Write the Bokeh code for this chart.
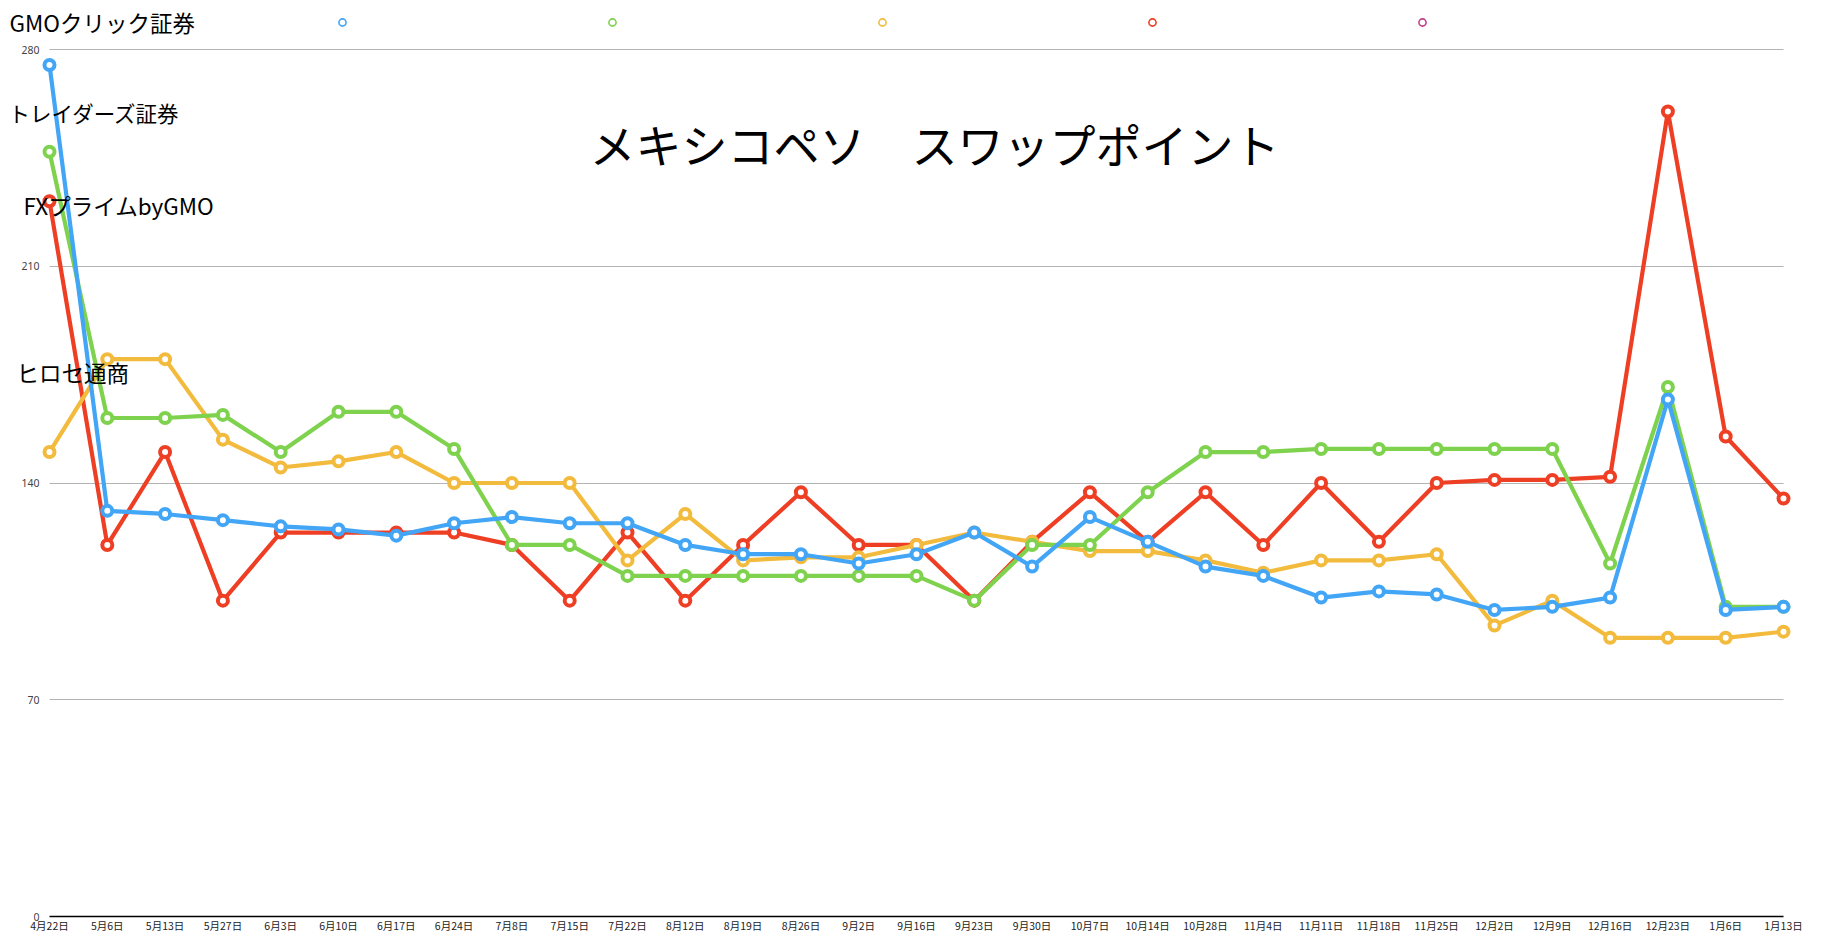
import math
from bokeh.plotting import figure
from bokeh.models import (Range1d, FixedTicker, Label, Legend, LegendItem,
                          ColumnDataSource)
from bokeh.core.properties import value
from bokeh.embed import file_html
from bokeh.resources import INLINE

# ---------------- data ----------------
dates = ["4月22日", "5月6日", "5月13日", "5月27日", "6月3日", "6月10日", "6月17日",
         "6月24日", "7月8日", "7月15日", "7月22日", "8月12日", "8月19日", "8月26日",
         "9月2日", "9月16日", "9月23日", "9月30日", "10月7日", "10月14日", "10月28日",
         "11月4日", "11月11日", "11月18日", "11月25日", "12月2日", "12月9日",
         "12月16日", "12月23日", "1月6日", "1月13日"]

gmo_click = [275, 131, 130, 128, 126, 125, 123, 127, 129, 127, 127, 120, 117, 117,
             114, 117, 124, 113, 129, 121, 113, 110, 103, 105, 104, 99, 100, 103,
             167, 99, 100]
traders = [247, 161, 161, 162, 150, 163, 163, 151, 120, 120, 110, 110, 110, 110,
           110, 110, 102, 120, 120, 137, 150, 150, 151, 151, 151, 151, 151, 114,
           171, 100, 100]
hirose = [150, 180, 180, 154, 145, 147, 150, 140, 140, 140, 115, 130, 115, 116,
          116, 120, 124, 121, 118, 118, 115, 111, 115, 115, 117, 94, 102, 90,
          90, 90, 92]
fx_prime = [231, 120, 150, 102, 124, 124, 124, 124, 120, 102, 124, 102, 120, 137,
            120, 120, 102, 121, 137, 121, 137, 120, 140, 121, 140, 141, 141, 142,
            260, 155, 135]

y_ticks = [0, 70, 140, 210, 280]
y_max_tick = 280
title_text = "メキシコペソ　スワップポイント"
series_names = ["GMOクリック証券", "トレイダーズ証券", "FXプライムbyGMO", "ヒロセ通商"]

BLUE = "#42a5f5"
GREEN = "#7ed24d"
YELLOW = "#f3bb3d"
RED = "#ee3f25"
PURPLE = "#c0408a"

JP = "Noto Sans CJK JP"

# ---------------- layout (pixels) ----------------
FRAME_W = 1822
FRAME_H = 916          # frame covers the whole upper area of the page
FIRST_X_PX = 49        # pixel position of first category
STEP_PX = 57.8         # pixels between categories
PLOT_TOP_PX = 49       # pixel position of the 280 gridline

n = len(dates)
xs = list(range(n))
x_start = -FIRST_X_PX / STEP_PX
x_end = x_start + FRAME_W / STEP_PX
y_end = y_max_tick * FRAME_H / (FRAME_H - PLOT_TOP_PX)

p = figure(frame_width=FRAME_W, frame_height=FRAME_H,
           x_range=Range1d(x_start, x_end), y_range=Range1d(0, y_end),
           output_backend="svg", toolbar_location=None,
           min_border_left=0, min_border_top=0, min_border_right=0,
           min_border_bottom=0, background_fill_color="white",
           border_fill_color="white", outline_line_color=None)

# x axis
p.xaxis.ticker = FixedTicker(ticks=xs)
p.xaxis.major_label_overrides = {i: d for i, d in enumerate(dates)}
p.xaxis.major_label_text_font = JP
p.xaxis.major_label_text_font_size = "10.5px"
p.xaxis.major_label_text_color = "#222222"
p.xaxis.major_tick_line_color = None
p.xaxis.minor_tick_line_color = None
p.xaxis.major_label_standoff = -5
p.xaxis.axis_line_color = "#000000"
p.xaxis.axis_line_width = 1.5
p.xaxis.bounds = (0, n - 1)

# y axis (labels drawn inside, left of the gridlines)
p.yaxis.ticker = FixedTicker(ticks=y_ticks)
p.yaxis.axis_line_color = None
p.yaxis.major_tick_line_color = None
p.yaxis.minor_tick_line_color = None
p.yaxis.major_label_text_font = "Noto Sans"
p.yaxis.major_label_text_font_size = "10.5px"
p.yaxis.major_label_text_color = "#444444"
p.yaxis.major_label_standoff = -45

p.xgrid.visible = False
p.ygrid.ticker = FixedTicker(ticks=y_ticks[1:])
p.ygrid.grid_line_color = "#b4b4b4"
p.ygrid.grid_line_width = 1
try:
    p.ygrid.cross_bounds = (0, n - 1)
except Exception:
    pass

# ---------------- series ----------------
series = [
    (fx_prime, RED),
    (hirose, YELLOW),
    (traders, GREEN),
    (gmo_click, BLUE),
]
for vals, col in series:
    src = ColumnDataSource(dict(x=xs, y=vals))
    p.line("x", "y", source=src, line_color=col, line_width=4.2,
           line_join="round")
    p.scatter("x", "y", source=src, marker="circle", size=10,
              fill_color="white", line_color=col, line_width=4)

# legend-only markers
legend_items = []
for col in [BLUE, GREEN, YELLOW, RED, PURPLE]:
    r = p.scatter(x=[0], y=[math.nan], marker="circle", size=6,
                  fill_color="white", line_color=col, line_width=1.6)
    legend_items.append(LegendItem(label=value(""), renderers=[r]))

legend = Legend(items=legend_items, location=(333, 885), orientation="horizontal",
                glyph_width=18, glyph_height=18, label_standoff=0, label_width=0,
                label_height=0, spacing=252, padding=0, margin=0,
                border_line_color=None, background_fill_alpha=0,
                label_text_font_size="1px")
p.add_layout(legend)

# ---------------- texts ----------------
p.add_layout(Label(x=934, y=774, x_units="screen", y_units="screen",
                   text=title_text, text_font=JP, text_font_size="46px",
                   text_align="center", text_baseline="middle",
                   text_color="#000000"))

name_pos = [(9, 895), (8, 804), (23, 712), (16, 545)]
name_sizes = ["22.5px", "21.5px", "22.5px", "22.5px"]
for name, (sx, sy), fs in zip(series_names, name_pos, name_sizes):
    p.add_layout(Label(x=sx, y=sy, x_units="screen", y_units="screen",
                       text=name, text_font=JP, text_font_size=fs,
                       text_align="left", text_baseline="middle",
                       text_color="#000000"))

open("out.html", "w").write(file_html(p, INLINE))
